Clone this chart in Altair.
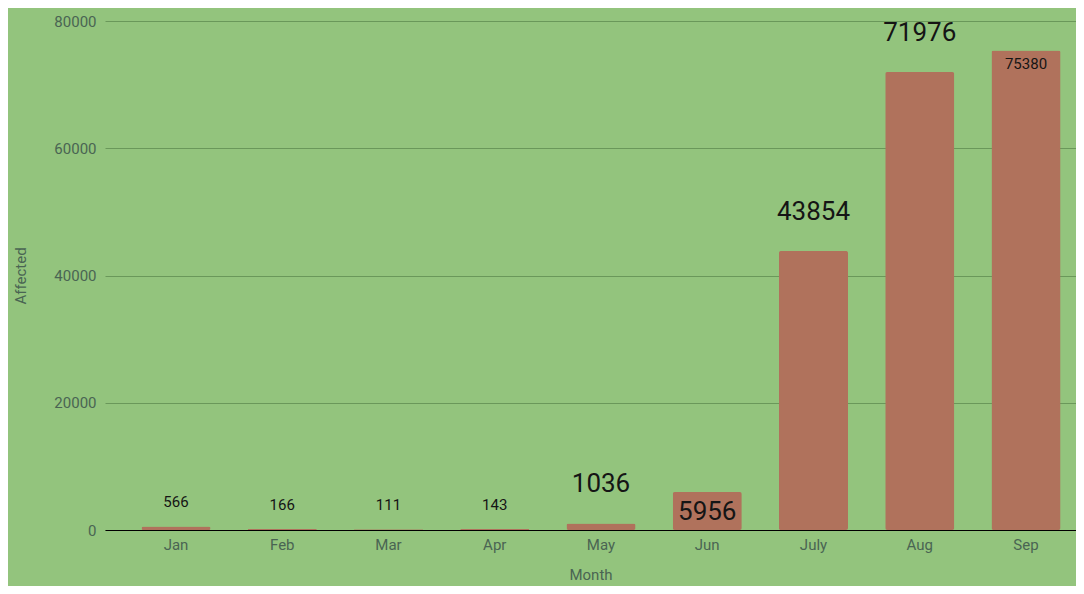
import altair as alt
import pandas as pd

months = ["Jan", "Feb", "Mar", "Apr", "May", "Jun", "July", "Aug", "Sep"]
affected = [566, 166, 111, 143, 1036, 5956, 43854, 71976, 75380]
y_ticks = [0, 20000, 40000, 60000, 80000]

small_above = ["Jan", "Feb", "Mar", "Apr"]
large_above = ["May", "July", "Aug"]
large_inside = ["Jun"]
small_inside = ["Sep"]

df = pd.DataFrame({"Month": months, "Affected": affected})

BG = "#93c47d"
BAR = "#b0725c"
GRID = "#6a985a"
TXT = "#4a6453"
FONT = "Roboto"

x = alt.X(
    "Month:N",
    sort=months,
    scale=alt.Scale(paddingInner=0.35, paddingOuter=0.2445, align=0.702),
    axis=alt.Axis(
        title="Month",
        labelAngle=0,
        ticks=False,
        domainColor="#000000",
        domainWidth=1,
        labelPadding=7,
        labelFont=FONT,
        labelFontSize=15,
        labelColor=TXT,
        titleFont=FONT,
        titleFontSize=15,
        titleFontWeight="normal",
        titleColor=TXT,
        titlePadding=15,
        grid=False,
    ),
)
y = alt.Y(
    "Affected:Q",
    scale=alt.Scale(domain=[0, 80000], nice=False),
    axis=alt.Axis(
        title="Affected",
        values=y_ticks,
        format="d",
        domain=False,
        ticks=False,
        labelPadding=9,
        labelFont=FONT,
        labelFontSize=15,
        labelColor=TXT,
        titleFont=FONT,
        titleFontSize=15,
        titleFontWeight="normal",
        titleColor=TXT,
        titlePadding=25,
        gridColor=GRID,
        gridWidth=1,
    ),
)

base = alt.Chart(df)
bars = base.mark_bar(color=BAR, cornerRadius=2).encode(x=x, y=y)


def labels(group, size, dy):
    return (
        base.transform_filter(alt.FieldOneOfPredicate(field="Month", oneOf=group))
        .mark_text(font=FONT, fontSize=size, color="#151515", baseline="alphabetic", dy=dy)
        .encode(x=alt.X("Month:N", sort=months), y="Affected:Q", text="Affected:Q")
    )


chart = (
    alt.layer(
        bars,
        labels(small_above, 15, -19),
        labels(large_above, 26, -31),
        labels(large_inside, 26, 28),
        labels(small_inside, 15, 19),
    )
    .properties(
        width=971,
        height=509,
        background=BG,
        padding={"left": 97, "top": 13, "right": 0, "bottom": 56},
        autosize=alt.AutoSizeParams(type="none"),
    )
    .configure_view(stroke=None)
)

chart.save("out.html", embed_options={"renderer": "svg", "actions": False})
